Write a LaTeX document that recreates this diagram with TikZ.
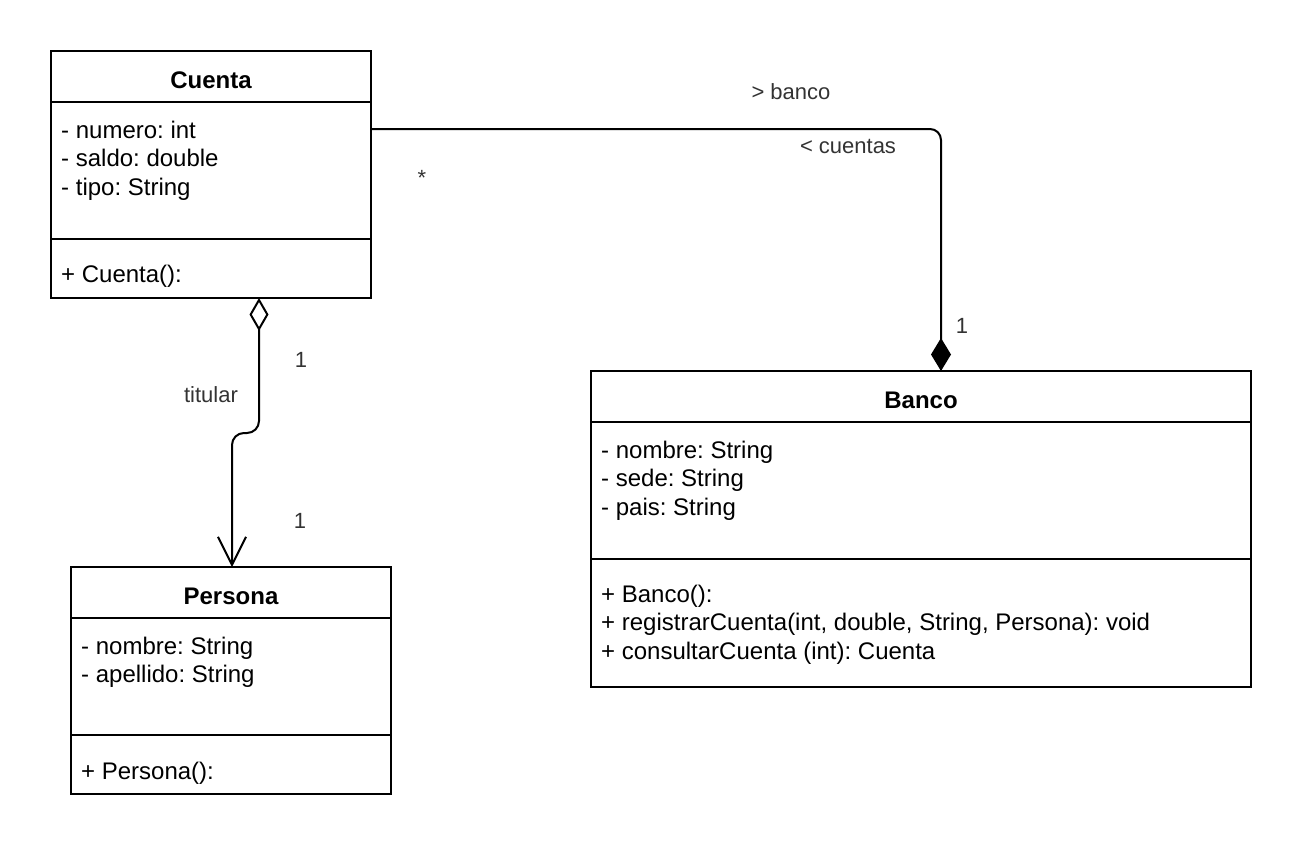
\documentclass[tikz,border=0pt]{standalone}
\usepackage{fontspec}
\setmainfont{Liberation Sans}
\usetikzlibrary{arrows.meta,calc}
\definecolor{lbl}{HTML}{333333}
\frenchspacing
\tikzset{
  x=1pt,y=-1pt,
  classbox/.style={draw,line width=2pt,inner sep=0pt,outer sep=0pt},
  sep/.style={line width=2pt},
  ctitle/.style={anchor=base,inner sep=0pt,font=\fontsize{24}{28.8}\selectfont\bfseries},
  member/.style={anchor=base west,inner sep=0pt,font=\fontsize{24}{28.8}\selectfont},
  elabel/.style={anchor=base,inner sep=0pt,text=lbl,font=\fontsize{22}{26}\selectfont},
  conn/.style={line width=2pt,line join=round}
}
\begin{document}
\begin{tikzpicture}
\useasboundingbox (0,0) rectangle (1302,852);
% Cuenta
\node[classbox,minimum width=320pt,minimum height=247pt] (cuenta) at (211,174.5) {};
\draw[sep] (51,102) -- (371,102);
\draw[sep] (51,239) -- (371,239);
\node[ctitle] (cuentaT) at (211,88) {Cuenta};
\node[member] (c1) at (61,138) {- numero: int};
\node[member] (c2) at (61,166.5) {- saldo: double};
\node[member] (c3) at (61,195) {- tipo: String};
\node[member] (c4) at (61,282) {+ Cuenta():};
% Persona
\node[classbox,minimum width=320pt,minimum height=227pt] (persona) at (231,680.5) {};
\draw[sep] (71,618) -- (391,618);
\draw[sep] (71,735) -- (391,735);
\node[ctitle] (personaT) at (231,604) {Persona};
\node[member] (p1) at (81,654) {- nombre: String};
\node[member] (p2) at (81,682.5) {- apellido: String};
\node[member] (p3) at (81,779) {+ Persona():};
% Banco
\node[classbox,minimum width=660pt,minimum height=316pt] (banco) at (921,529) {};
\draw[sep] (591,422) -- (1251,422);
\draw[sep] (591,559) -- (1251,559);
\node[ctitle] (bancoT) at (921,408) {Banco};
\node[member] (b1) at (601,458) {- nombre: String};
\node[member] (b2) at (601,486.5) {- sede: String};
\node[member] (b3) at (601,515) {- pais: String};
\node[member] (b4) at (601,602) {+ Banco():};
\node[member] (b5) at (601,630.5) {+ registrarCuenta(int, double, String, Persona): void};
\node[member] (b6) at (601,659) {+ consultarCuenta (int): Cuenta};
% Cuenta -- Banco (composition)
\draw[conn,rounded corners=11pt,-{Diamond[length=33pt,width=20pt]}]
  ([yshift=-78pt]cuenta.north east) -| ([xshift=20pt]banco.north);
\node[elabel] (lb1) at (791,99) {> banco};
\node[elabel] (lb2) at (848,153) {< cuentas};
\node[elabel] (lb3) at (422,185) {*};
\node[elabel] (lb4) at (962,333) {1};
% Cuenta -- Persona (aggregation)
\coordinate (aggA) at ([xshift=48pt]cuenta.south);
\coordinate (aggB) at ([xshift=1pt]persona.north);
\draw[conn,rounded corners=12pt,{Diamond[open,length=33pt,width=19pt]}-{Straight Barb[length=28pt,width=28pt]}]
  (aggA) -- (aggA |- 0,433) -- (aggB |- 0,433) -- (aggB);
\node[elabel] (lp1) at (301,367) {1};
\node[elabel] (lp2) at (211,402) {titular};
\node[elabel] (lp3) at (300,528) {1};
\end{tikzpicture}
\end{document}
